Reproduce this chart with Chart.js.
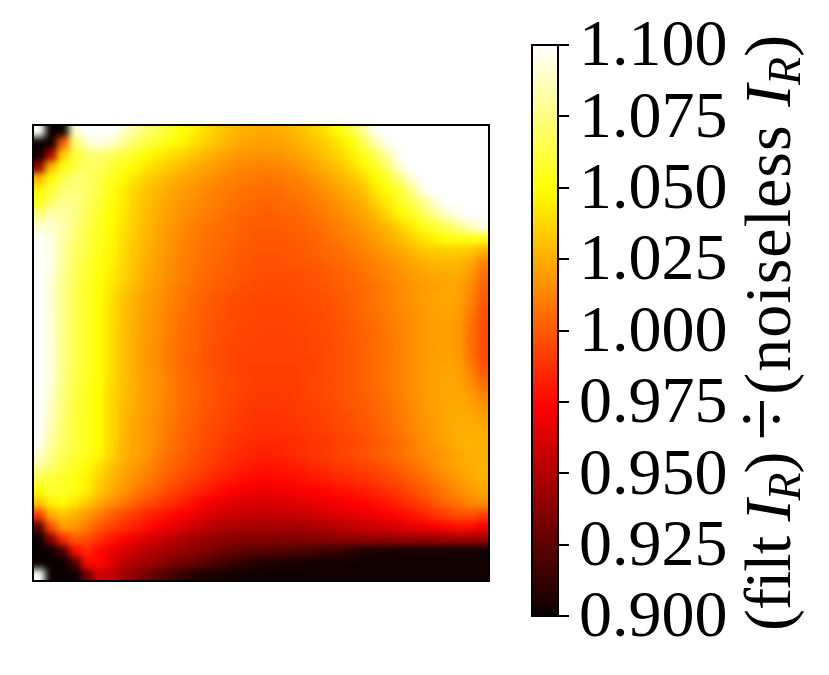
<!DOCTYPE html>
<html>
<head>
<meta charset="utf-8">
<style>
  html, body { margin: 0; background: #fff; }
  canvas { position: absolute; left: 0; top: 0; }
  #mapClip { position: absolute; left: 33px; top: 125px; width: 456px; height: 456px; overflow: hidden; }
  /* imshow style smoothing of the cells */
  #map { left: -16px; top: -16px; filter: blur(3.5px); }
  #mapFrame { position: absolute; left: 32px; top: 124px; width: 458px; height: 458px; box-sizing: border-box; border: 2px solid #000; }
</style>
<script src="https://cdn.jsdelivr.net/npm/chart.js@4"></script>
</head>
<body>
<div id="mapClip"><canvas id="map" width="488" height="488"></canvas></div>
<div id="mapFrame"></div>
<canvas id="cbar" width="829" height="675"></canvas>
<script>
// ratio, stored as thousandths above 0.900 (0 = 0.900, 200 = 1.100)
const ratioRows = [
  [200,0,0,190,200,200,200,190,180,172,165,157,150,145,138,133,129,126,124,124,125,127,131,136,142,150,162,178,198,200,200,200,200,200,200,200,200,200],
  [0,0,100,170,190,195,190,180,170,163,157,151,146,140,135,130,126,123,121,121,122,124,127,131,136,142,150,165,182,197,200,200,200,200,200,200,200,200],
  [0,50,135,160,170,172,168,162,155,150,145,140,136,132,127,123,120,118,117,117,118,120,123,127,132,137,144,154,167,182,197,200,200,200,200,200,200,200],
  [40,128,152,163,168,168,160,154,148,142,137,133,129,125,121,118,115,113,112,112,113,115,118,122,127,132,138,147,155,170,192,200,200,200,200,200,200,200],
  [128,150,165,172,170,164,156,148,141,135,131,127,123,120,117,114,112,110,109,108,109,111,113,117,121,126,131,137,148,157,172,190,200,200,200,200,200,200],
  [148,162,172,175,170,163,153,145,137,131,127,123,120,117,114,111,109,107,106,105,106,108,110,113,117,121,126,131,141,150,160,174,195,200,200,200,200,200],
  [155,170,178,176,168,160,152,144,136,130,125,121,118,115,112,110,107,105,104,103,104,105,107,110,113,117,121,126,135,143,154,163,176,192,200,200,200,200],
  [175,185,182,175,166,158,150,142,135,129,124,120,116,113,110,108,105,103,102,101,102,103,105,107,110,114,118,122,128,137,147,155,165,177,189,196,200,200],
  [190,190,184,174,165,156,149,141,134,128,123,118,114,111,108,106,104,102,100,100,100,101,103,105,108,111,114,118,123,128,135,143,152,159,167,177,187,196],
  [200,193,182,172,163,155,148,140,133,127,122,117,113,110,107,105,103,101,99,99,99,100,101,103,106,109,112,115,119,124,129,135,141,146,150,153,154,152],
  [200,194,180,170,162,154,147,139,132,126,121,116,112,109,106,104,102,100,98,98,98,99,100,102,104,106,109,112,115,119,123,128,132,134,135,135,133,126],
  [200,195,180,168,160,153,146,138,131,125,120,115,111,108,105,103,101,99,97,97,97,98,99,100,102,104,106,109,112,115,118,122,125,127,128,128,123,112],
  [200,194,178,167,158,152,145,137,130,124,119,115,111,107,104,102,100,98,97,96,96,96,97,98,100,102,104,107,110,113,116,119,121,123,124,124,118,106],
  [200,192,177,166,157,151,143,135,128,122,118,113,109,106,103,101,99,97,96,95,95,95,96,97,99,101,103,105,108,111,114,117,119,121,122,121,115,102],
  [200,192,177,166,157,150,141,132,126,120,117,112,108,104,101,98,96,95,94,94,94,94,95,96,97,99,102,105,108,111,114,117,120,122,123,122,112,100],
  [200,192,177,166,157,150,140,131,125,120,116,111,107,103,100,98,96,94,94,93,93,94,94,95,97,99,101,104,107,110,113,116,119,121,122,120,110,97],
  [200,192,176,165,157,150,140,131,125,119,115,110,106,103,100,97,95,94,93,93,93,93,94,95,96,98,100,103,106,109,112,115,118,120,121,118,107,96],
  [200,192,176,165,157,150,140,131,124,119,115,110,105,102,99,97,95,93,93,92,92,93,93,94,96,97,100,102,105,108,112,115,118,120,121,118,106,95],
  [200,193,176,165,157,150,140,131,124,118,114,109,105,102,98,96,94,93,92,92,92,92,93,94,95,97,99,102,105,108,111,115,118,120,121,118,106,95],
  [200,193,176,165,157,150,140,131,124,118,114,109,104,101,98,96,94,92,92,92,92,92,92,93,95,97,99,102,105,108,112,115,118,120,122,119,108,96],
  [200,193,176,165,157,150,140,131,124,119,115,109,105,101,98,96,94,92,91,91,91,91,92,93,95,97,99,102,105,108,112,115,118,121,122,121,112,99],
  [200,192,175,164,156,149,139,131,125,119,116,110,106,102,99,97,95,92,91,91,91,91,92,94,95,97,99,102,105,108,112,115,118,121,123,122,116,105],
  [200,190,174,163,155,149,138,130,124,119,115,110,105,102,99,96,94,92,90,90,90,90,92,93,95,97,99,101,104,107,111,115,118,121,123,123,120,112],
  [200,188,173,162,155,149,138,130,124,119,115,110,105,102,98,96,93,91,89,89,89,90,91,92,94,96,98,100,103,106,110,114,118,121,123,124,122,117],
  [200,186,172,162,155,149,138,129,123,118,114,109,104,101,97,95,92,90,88,88,88,89,90,91,93,95,97,99,102,105,109,113,117,120,123,124,124,121],
  [200,184,171,161,155,149,138,129,123,118,113,108,103,100,96,93,91,89,87,87,87,88,89,90,92,94,96,98,101,104,108,112,116,120,123,125,125,124],
  [198,180,170,161,155,149,138,128,122,118,113,107,103,99,95,92,89,87,85,84,85,86,87,89,90,92,94,96,99,102,106,110,115,119,122,125,126,125],
  [190,176,167,160,154,147,137,127,122,118,110,105,101,97,93,90,87,85,83,82,83,85,87,89,91,93,95,97,100,103,106,110,113,116,120,123,125,125],
  [180,170,163,156,149,141,131,124,119,114,108,103,99,95,91,88,85,82,80,79,80,81,83,85,87,89,91,93,95,98,102,106,110,115,119,123,125,126],
  [165,160,157,152,146,136,128,121,116,110,105,100,95,91,87,83,80,77,75,74,75,76,78,80,82,84,86,88,90,93,97,101,105,110,115,119,123,125],
  [148,160,157,153,145,133,125,118,111,105,100,94,89,85,80,76,73,70,69,68,69,70,72,73,75,77,79,81,84,87,90,95,100,105,110,115,120,122],
  [132,145,148,142,133,124,116,110,102,96,91,86,81,76,71,68,65,63,62,62,62,64,65,67,68,70,72,74,77,80,84,88,93,99,104,109,113,115],
  [90,125,132,125,118,110,102,95,89,84,80,76,72,68,63,60,58,56,55,54,55,56,57,59,61,63,65,67,69,72,75,79,83,88,92,96,97,92],
  [25,95,120,118,110,100,93,87,82,77,71,67,62,58,54,50,48,47,47,47,47,45,46,48,50,52,54,56,58,60,63,66,68,71,75,77,76,70],
  [0,40,85,100,97,88,80,74,68,63,58,53,49,45,42,40,38,37,37,37,36,36,36,38,38,40,41,42,42,42,43,44,44,44,45,46,46,45],
  [0,0,20,75,85,76,68,62,57,52,48,45,42,39,35,31,28,26,24,23,22,21,20,18,16,14,10,6,6,5,4,4,3,3,3,2,2,2],
  [0,0,0,20,75,75,65,55,48,44,40,35,31,27,22,18,14,11,8,6,5,4,3,2,2,2,2,2,2,2,2,2,2,2,2,2,2,2],
  [200,0,0,0,30,60,55,45,38,30,23,17,12,8,5,4,3,2,2,2,2,2,2,2,2,2,2,2,2,2,2,2,2,2,2,2,2,2]
];
const cbarTicks = [0.9, 0.925, 0.95, 0.975, 1.0, 1.025, 1.05, 1.075, 1.1];
const cbarRange = [0.9, 1.1];

// matplotlib "hot"
function hot (t) {
  t = Math.min(1, Math.max(0, t));
  const r = Math.min(1, 0.0416 + t * (1 - 0.0416) / 0.365);
  const g = Math.min(1, Math.max(0, (t - 0.365) / 0.381));
  const b = Math.min(1, Math.max(0, (t - 0.746) / 0.254));
  return `rgb(${Math.round(r * 255)},${Math.round(g * 255)},${Math.round(b * 255)})`;
}

const cells = [];
ratioRows.forEach((row, y) => row.forEach((v, x) => cells.push({x: x, y: y, v: v})));

const frame = {
  id: 'frame',
  afterDatasetsDraw (chart) {
    const a = chart.chartArea, ctx = chart.ctx;
    ctx.save();
    ctx.strokeStyle = '#000';
    ctx.lineWidth = 2;
    ctx.strokeRect(a.left, a.top, a.right - a.left, a.bottom - a.top);
    ctx.restore();
  }
};

// stretch the outer cells into the margin so the blur has no white edge to pick up
const edgeBleed = {
  id: 'edgeBleed',
  afterDraw (chart) {
    const a = chart.chartArea, ctx = chart.ctx, c = chart.canvas;
    const m = a.left, w = a.right - a.left;
    ctx.drawImage(c, m, m, w, 1, m, 0, w, m);
    ctx.drawImage(c, m, a.bottom - 1, w, 1, m, a.bottom, w, m);
    ctx.drawImage(c, m, 0, 1, c.height, 0, 0, m, c.height);
    ctx.drawImage(c, a.right - 1, 0, 1, c.height, a.right, 0, m, c.height);
  }
};

new Chart(document.getElementById('map'), {
  type: 'scatter',
  data: {
    datasets: [{
      data: cells,
      pointStyle: 'rect',
      pointRadius: 8.6,
      pointBorderWidth: 0,
      backgroundColor: cells.map(c => hot(c.v / 200)),
      borderColor: 'transparent'
    }]
  },
  options: {
    responsive: false,
    animation: false,
    layout: {padding: 16},
    plugins: {legend: {display: false}, tooltip: {enabled: false}},
    scales: {
      x: {display: false, min: -0.5, max: 37.5},
      y: {display: false, min: -0.5, max: 37.5, reverse: true}
    }
  },
  plugins: [edgeBleed]
});

// axis label is mixed roman / italic / subscript, so it goes piece by piece
// text, size, style, offset from baseline, gap after, letter spacing
const labelParts = [
  ['(filt ', 66, '', 0, 0, -1], ['I', 66, 'italic', 0, 0, -1], ['R', 46, 'italic', 10, 0, -1], [')', 66, '', 0, 12, -1],
  ['÷', 78, '', -2, 3, 0],
  ['(noiseless ', 66, '', 0, 0, 1], ['I', 66, 'italic', 0, 0, 0], ['R', 46, 'italic', 10, 0, 0], [')', 66, '', 0, 0, 0]
];
const colorbarLabel = {
  id: 'colorbarLabel',
  afterDraw (chart) {
    const ctx = chart.ctx;
    ctx.save();
    ctx.translate(790, 631);
    ctx.rotate(-Math.PI / 2);
    ctx.fillStyle = '#000';
    ctx.textBaseline = 'alphabetic';
    let pos = 0;
    labelParts.forEach(p => {
      ctx.font = `${p[2]} ${p[1]}px "Liberation Serif"`;
      ctx.letterSpacing = p[5] + 'px';
      ctx.fillText(p[0], pos, p[3]);
      pos += ctx.measureText(p[0]).width + p[4];
    });
    ctx.restore();
  }
};

new Chart(document.getElementById('cbar'), {
  type: 'bar',
  data: {
    labels: [''],
    datasets: [{
      data: [cbarRange],
      barPercentage: 1,
      categoryPercentage: 1,
      backgroundColor (context) {
        const a = context.chart.chartArea;
        if (!a) return '#000';
        const g = context.chart.ctx.createLinearGradient(0, a.bottom, 0, a.top);
        for (let i = 0; i <= 64; i++) g.addColorStop(i / 64, hot(i / 64));
        return g;
      }
    }]
  },
  options: {
    responsive: false,
    animation: false,
    layout: {padding: {left: 532, top: 45, right: 0, bottom: 59}},
    plugins: {legend: {display: false}, tooltip: {enabled: false}},
    scales: {
      x: {display: false},
      y: {
        position: 'right',
        min: cbarRange[0],
        max: cbarRange[1],
        afterBuildTicks (scale) { scale.ticks = cbarTicks.map(v => ({value: v})); },
        afterFit (scale) { scale.width = 271; scale.paddingTop = 0; scale.paddingBottom = 0; },
        border: {display: false},
        grid: {drawOnChartArea: false, color: '#000', lineWidth: 2, tickLength: 11},
        ticks: {
          color: '#000',
          padding: 10,
          labelOffset: 3,
          crossAlign: 'near',
          autoSkip: false,
          font: {family: '"Liberation Serif"', size: 66},
          callback: v => v.toFixed(3)
        }
      }
    }
  },
  plugins: [frame, colorbarLabel]
});
</script>
</body>
</html>
